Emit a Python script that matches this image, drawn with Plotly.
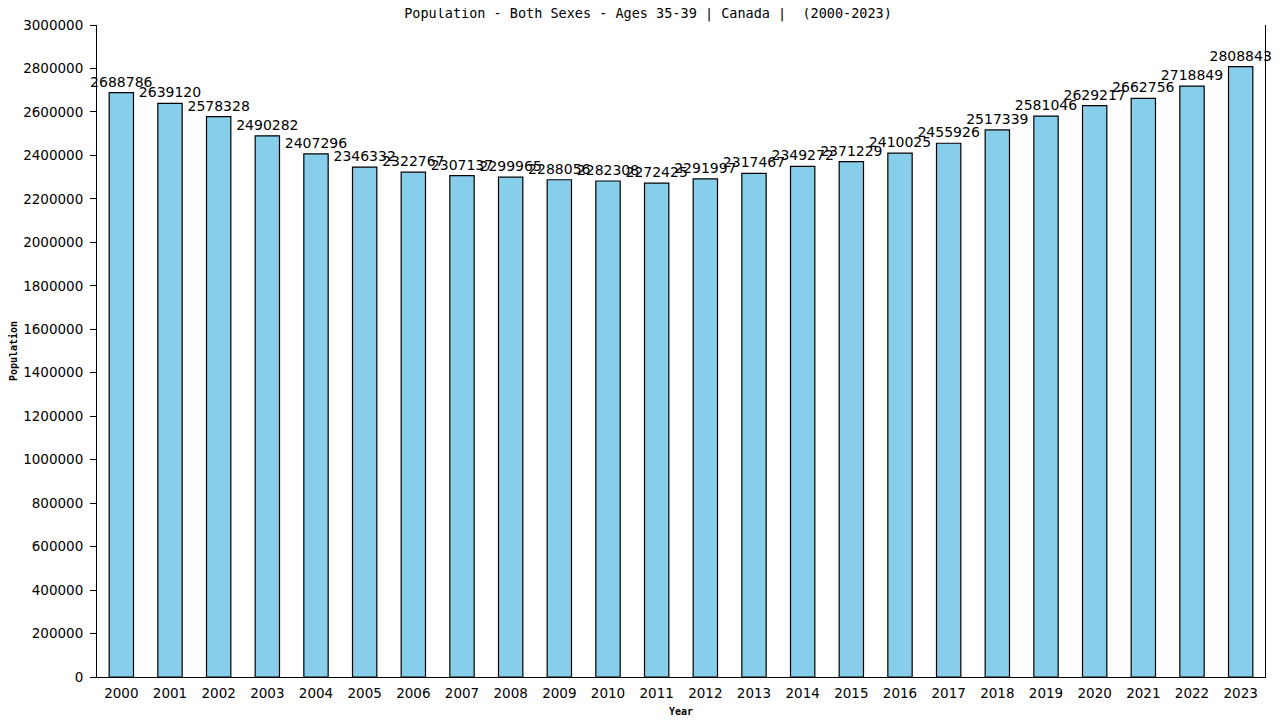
import plotly.graph_objects as go

years = [str(y) for y in range(2000, 2024)]
population = [2688786, 2639120, 2578328, 2490282, 2407296, 2346332, 2322767, 2307137,
              2299965, 2288056, 2282308, 2272425, 2291997, 2317467, 2349272, 2371229,
              2410025, 2455926, 2517339, 2581046, 2629217, 2662756, 2718849, 2808843]
labels = [str(v) for v in population]

fig = go.Figure()
fig.add_trace(go.Bar(
    x=years, y=population, text=labels, textposition="outside",
    constraintext="none", cliponaxis=False,
    textfont=dict(family="DejaVu Sans", size=14, color="black"),
    marker=dict(color="#87CEEB", line=dict(color="black", width=1.2)),
    width=0.5,
))
fig.update_layout(
    width=1280, height=720,
    margin=dict(l=89, r=23, t=17, b=51),
    paper_bgcolor="white", plot_bgcolor="white",
    showlegend=False,
    title=dict(text="Population - Both Sexes - Ages 35-39 | Canada |  (2000-2023)",
               x=0.5, xanchor="center", y=0.9995, yanchor="top",
               font=dict(family="DejaVu Sans Mono", size=13.5, color="black")),
)
fig.update_xaxes(
    showline=True, linecolor="black", linewidth=1, ticks="", showgrid=False,
    ticklabelstandoff=4, automargin=False,
    tickfont=dict(family="DejaVu Sans", size=13.5, color="black"),
    title=dict(text="<b>Year</b>", font=dict(family="DejaVu Sans Mono", size=10, color="black"), standoff=7),
)
fig.update_yaxes(
    range=[0, 3000000], dtick=200000, tickformat="d",
    showline=True, linecolor="black", linewidth=1, mirror=True,
    ticks="outside", ticklen=6, tickcolor="black", showgrid=False, zeroline=False,
    ticklabelstandoff=4, automargin=False,
    tickfont=dict(family="DejaVu Sans", size=13.5, color="black"),
    title=dict(text="<b>Population</b>", font=dict(family="DejaVu Sans Mono", size=10, color="black"), standoff=8),
)
fig.write_html("out.html")
